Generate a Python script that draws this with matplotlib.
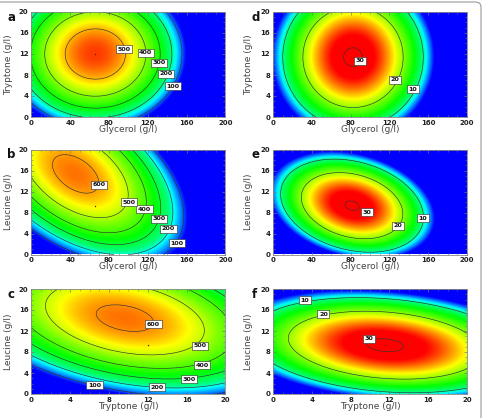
import numpy as np
import matplotlib
matplotlib.use('Agg')
import matplotlib.pyplot as plt
from matplotlib.colors import LinearSegmentedColormap
from matplotlib.ticker import MultipleLocator
from matplotlib.patches import FancyBboxPatch

# fitted quadratic response surfaces
# z = peak - cxx*(x-x0)^2 - cyy*(y-y0)^2 - cxy*(x-x0)*(y-y0)
panel_ids = ['a', 'b', 'c', 'd', 'e', 'f']
peak = [555, 624, 615, 30.36, 30.2, 30.37]
x_center = [66, 45.7, 9.65, 82.5, 81.5, 11.55]
y_center = [12, 15.35, 14.45, 11.4, 9.3, 9.3]
coef_xx = [0.057, 0.0543, 1.928, 0.00388, 0.00397, 0.1086]
coef_yy = [2.4, 2.3, 2.642, 0.1126, 0.274, 0.2585]
coef_xy = [0.0, 0.334, 1.506, 0.0, 0.0164, 0.0672]

x_names = ['Glycerol (g/l)', 'Glycerol (g/l)', 'Tryptone (g/l)',
           'Glycerol (g/l)', 'Glycerol (g/l)', 'Tryptone (g/l)']
y_names = ['Tryptone (g/l)', 'Leucine (g/l)', 'Leucine (g/l)',
           'Tryptone (g/l)', 'Leucine (g/l)', 'Leucine (g/l)']
x_max = [200, 200, 20, 200, 200, 20]

levels = [[100, 200, 300, 400, 500],
          [100, 200, 300, 400, 500, 600],
          [100, 200, 300, 400, 500, 600],
          [10, 20, 30], [10, 20, 30], [10, 20, 30]]

# where each contour label sits (data coords), same order as levels
label_x = [[146, 139.1, 131.6, 118, 95.4],
           [150, 141.5, 131.5, 116.8, 100.6, 69.8],
           [6.53, 12.98, 16.24, 17.58, 17.4, 12.6],
           [144, 125.9, 89.7],
           [154.3, 129.2, 96.6],
           [3.3, 5.2, 9.9]]
label_y = [[5.84, 8.25, 10.35, 12.25, 12.9],
           [2.18, 4.87, 6.8, 8.6, 10.0, 13.3],
           [1.71, 1.33, 2.79, 5.46, 9.2, 13.3],
           [5.27, 7.1, 10.67],
           [6.9, 5.46, 8.06],
           [17.9, 15.2, 10.5]]

# small design-point markers
dot_x = [66, 66, 12, None, None, 11.55]
dot_y = [12, 9.2, 9.27, None, None, 9.27]

# colour limits per panel
c_lo = [50, 55, 55, 3, 3, 3]
c_hi = [580, 680, 670, 28.5, 28.5, 28.5]

cmap = LinearSegmentedColormap.from_list('rsm', [
    (0.0, (0, 0, 1)),
    (0.11, (0, 0.55, 1)),
    (0.2, (0, 1, 1)),
    (0.28, (0, 1, 0.5)),
    (0.46, (0, 1, 0)),
    (0.65, (0.5, 1, 0)),
    (0.79, (1, 1, 0)),
    (0.9, (1, 0.5, 0)),
    (1.0, (1, 0, 0))])

W, H = 483, 418
fig = plt.figure(figsize=(W / 100, H / 100), dpi=100)

col_left = [31.3, 273]
row_top = [12, 149.5, 289]
ax_w, ax_h = 194, 105
letter_x = [7, 252]
ylab_x = [-0.096, -0.105]

for i, pid in enumerate(panel_ids):
    col, row = i // 3, i % 3
    l, t = col_left[col], row_top[row]
    ax = fig.add_axes([l / W, 1 - (t + ax_h) / H, ax_w / W, ax_h / H])

    xs = np.linspace(0, x_max[i], 400)
    ys = np.linspace(0, 20, 250)
    X, Y = np.meshgrid(xs, ys)
    u = X - x_center[i]
    v = Y - y_center[i]
    Z = peak[i] - coef_xx[i] * u ** 2 - coef_yy[i] * v ** 2 - coef_xy[i] * u * v

    ax.imshow(Z, extent=[0, x_max[i], 0, 20], origin='lower', aspect='auto',
              cmap=cmap, vmin=c_lo[i], vmax=c_hi[i], interpolation='bilinear')
    ax.contour(X, Y, Z, levels=levels[i], colors='#333333', linewidths=0.45)

    for lv, lx, ly in zip(levels[i], label_x[i], label_y[i]):
        ax.text(lx, ly, str(lv), fontsize=4.6, fontweight='bold', ha='center', va='center',
                color='#111111',
                bbox=dict(boxstyle='square,pad=0.25', fc='white', ec='#222222', lw=0.4))

    if dot_x[i] is not None:
        ax.plot(dot_x[i], dot_y[i], 'o', ms=1.0, color='#552200', mec='none')

    ax.set_xlim(0, x_max[i])
    ax.set_ylim(0, 20)
    if x_max[i] == 200:
        ax.xaxis.set_major_locator(MultipleLocator(40))
        ax.xaxis.set_minor_locator(MultipleLocator(10))
    else:
        ax.xaxis.set_major_locator(MultipleLocator(4))
        ax.xaxis.set_minor_locator(MultipleLocator(1))
    ax.yaxis.set_major_locator(MultipleLocator(4))
    ax.yaxis.set_minor_locator(MultipleLocator(1))
    ax.tick_params(which='both', direction='in', top=True, right=True,
                   color='#777777', labelsize=5, labelcolor='#222222', pad=2)
    ax.tick_params(which='major', length=2.5, width=0.5)
    ax.tick_params(which='minor', length=1.3, width=0.4)
    for lab in ax.get_xticklabels() + ax.get_yticklabels():
        lab.set_fontweight('bold')
    for sp in ax.spines.values():
        sp.set_color('#888888')
        sp.set_linewidth(0.6)

    ax.set_xlabel(x_names[i], fontsize=6.5, color='#444444')
    ax.set_ylabel(y_names[i], fontsize=6.5, color='#444444')
    ax.xaxis.set_label_coords(0.5, -0.075)
    ax.yaxis.set_label_coords(ylab_x[col], 0.5)

    fig.text(letter_x[col] / W, 1 - (t - 1) / H, pid, fontsize=8.5, fontweight='bold',
             ha='left', va='top', color='#111111')

# rounded frame round the figure (only top and right show)
frame = FancyBboxPatch((-20 / W, -20 / H), 501 / W, 436 / H,
                       boxstyle='round,pad=0,rounding_size=0.012',
                       transform=fig.transFigure, fc='none', ec='#999999', lw=0.8)
fig.patches.append(frame)

fig.savefig('out.png', dpi=100)
